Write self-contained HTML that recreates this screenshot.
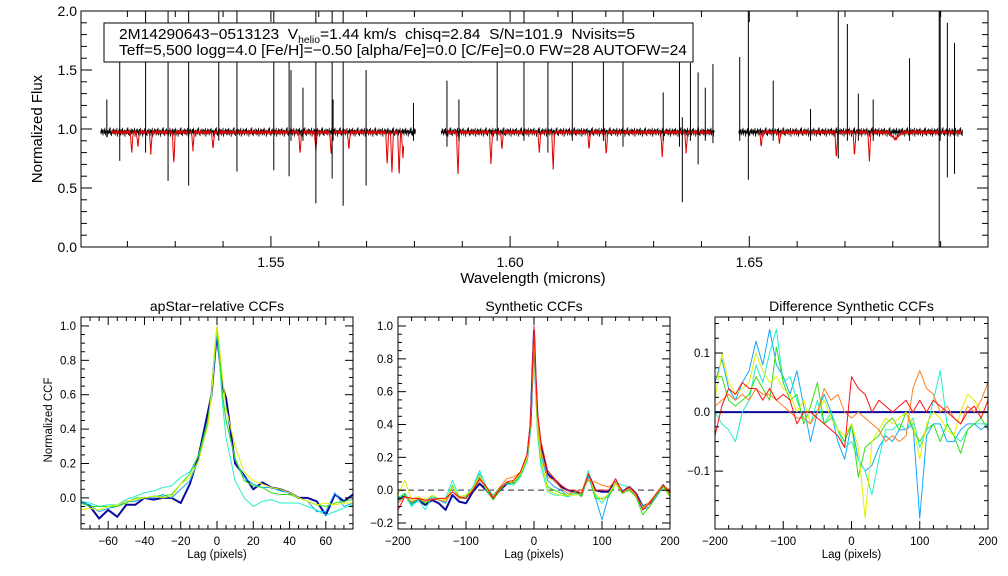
<!DOCTYPE html>
<html><head><meta charset="utf-8"><style>
html,body{margin:0;padding:0;background:#fff;width:1008px;height:576px;overflow:hidden}
svg{font-family:"Liberation Sans",sans-serif}
</style></head><body>
<svg id="fig" width="1008" height="576" viewBox="0 0 1008 576"></svg>
<script>
// ---------- spectrum data ----------
const segStart=[1.5144,1.5856,1.6478];
const segEnd=[1.5803,1.6427,1.6946];
const redStart=[1.5167,1.5866,1.6520];
const redEnd=[1.5778,1.6420,1.6943];
const spikeWl=[1.5157,1.5184,1.5238,1.5285,1.5328,1.5391,1.5429,1.5506,1.5538,1.5542,1.5567,1.5594,1.5628,1.5630,1.5651,1.5699,1.5798,1.5868,1.5893,1.5973,1.6029,1.6079,1.6130,1.6195,1.6236,1.6320,1.6354,1.6360,1.6377,1.6393,1.6408,1.6424,1.6480,1.6498,1.6550,1.6628,1.6686,1.6705,1.6728,1.6759,1.6835,1.6897,1.6899,1.6914,1.6929];
const spikeTop=[1.25,1.57,2.05,2.05,2.05,2.05,2.05,2.05,1.57,1.5,1.35,2.05,2.05,1.25,2.05,1.5,1.22,1.41,1.25,1.58,2.05,1.58,2.05,1.57,2.05,1.31,1.57,1.1,1.56,1.48,1.35,1.55,1.61,2.05,1.41,1.17,2.05,1.89,1.3,1.25,1.6,2.05,2.05,1.9,1.73];
const spikeBot=[0.93,0.73,0.8,0.56,0.52,0.9,0.64,0.65,0.6,0.9,0.9,0.37,0.58,0.9,0.35,0.52,0.9,0.85,0.9,0.9,0.9,0.8,0.9,0.9,0.85,0.9,0.85,0.38,0.9,0.7,0.9,0.88,0.9,0.57,0.9,0.9,0.75,0.9,0.9,0.9,0.9,-0.05,0.9,0.59,0.62];
const lineWl=[1.5209,1.5222,1.5249,1.5297,1.5337,1.5379,1.5561,1.5594,1.5626,1.5663,1.5743,1.5753,1.5768,1.5776,1.5891,1.5960,1.5983,1.6061,1.6090,1.6165,1.6201,1.6318,1.6368,1.6525,1.6563,1.6682,1.6720,1.6751,1.6805];
const lineMin=[0.8,0.85,0.8,0.7,0.83,0.83,0.79,0.82,0.78,0.83,0.7,0.62,0.6,0.75,0.6,0.69,0.83,0.8,0.66,0.83,0.78,0.76,0.8,0.85,0.88,0.75,0.78,0.73,0.92];
const lineWid=[3e-4,3e-4,3e-4,3e-4,3e-4,3e-4,3e-4,3e-4,3e-4,3e-4,3e-4,3e-4,3e-4,3e-4,3e-4,3e-4,3e-4,3e-4,3e-4,3e-4,3e-4,3e-4,3e-4,3e-4,3e-4,3e-4,3e-4,3e-4,1.5e-3];
const noise=[0.01,-0.02,0.03,-0.01,0.02,-0.03,0.0,0.025,-0.015,0.035,-0.03,0.01,-0.005,0.02,-0.04,0.015,0.0,-0.02,0.03,-0.01,0.04,-0.025,0.005,-0.035,0.02,0.01,-0.015,0.03,-0.02,0.0,0.025,-0.03,0.015,-0.01,0.035,-0.04,0.005];
const rnoise=[0.0,-0.01,0.005,-0.02,0.0,-0.005,-0.03,0.0,-0.01,0.005,-0.015,0.0,-0.04,-0.005,0.0,-0.01,-0.02,0.005,0.0,-0.025,-0.005];

// ---------- CCF data ----------
const lag1=[-75,-70,-65,-60,-55,-50,-45,-40,-35,-30,-25,-20,-15,-10,-5,-3,-1,0,1,3,5,10,15,20,25,30,35,40,45,50,55,60,65,70,75];
const p1Navy=[-0.02,-0.05,-0.12,-0.07,-0.11,-0.04,-0.04,0.0,-0.01,0.0,0.0,-0.03,0.08,0.25,0.5,0.6,0.85,0.95,0.85,0.65,0.58,0.2,0.13,0.05,0.09,0.06,0.05,0.03,0.0,0.0,-0.02,-0.1,0.02,-0.02,0.02];
const p1Azure=[-0.03,-0.04,-0.08,-0.06,-0.05,-0.02,-0.02,0.0,0.0,0.02,0.0,0.05,0.1,0.22,0.45,0.6,0.85,0.97,0.88,0.6,0.45,0.22,0.12,0.08,0.06,0.06,0.04,0.03,0.0,-0.02,-0.08,-0.08,0.03,-0.05,-0.03];
const p1Cyan=[-0.02,-0.03,-0.05,-0.04,-0.04,-0.01,0.01,0.03,0.04,0.06,0.07,0.12,0.15,0.25,0.45,0.6,0.88,0.97,0.85,0.55,0.35,0.1,0.0,-0.05,-0.02,-0.01,-0.03,-0.03,-0.03,-0.05,-0.07,-0.1,-0.08,-0.06,-0.04];
const p1Green=[-0.03,-0.05,-0.05,-0.05,-0.05,-0.03,0.0,0.0,0.01,0.01,0.02,0.08,0.14,0.25,0.45,0.62,0.9,1.0,0.9,0.6,0.45,0.23,0.1,0.07,0.06,0.03,0.02,0.02,0.0,-0.02,-0.04,-0.05,-0.03,-0.02,-0.01];
const p1Yellow=[-0.07,-0.06,-0.07,-0.05,-0.04,-0.02,-0.01,0.0,0.01,0.0,0.01,0.08,0.12,0.22,0.42,0.6,0.9,1.0,0.92,0.7,0.52,0.3,0.15,0.1,0.08,0.06,0.05,0.03,0.0,-0.02,-0.04,-0.03,-0.04,-0.03,-0.03];

const lag2=[-200,-190,-180,-170,-160,-150,-140,-130,-120,-110,-100,-90,-80,-70,-60,-50,-40,-30,-20,-10,-5,-2,0,2,5,10,20,30,40,50,60,70,80,90,100,110,120,130,140,150,160,170,180,190,200];
const p2Navy=[-0.06,-0.03,-0.08,-0.06,-0.09,-0.06,-0.08,-0.12,-0.03,-0.07,-0.08,-0.01,0.04,0.0,-0.05,0.0,0.04,0.05,0.1,0.2,0.4,0.75,0.97,0.72,0.45,0.27,0.1,0.06,0.02,0.0,-0.01,-0.03,0.1,0.0,-0.01,-0.01,0.05,-0.01,0.02,-0.02,-0.1,-0.08,-0.03,0.03,-0.02];
const p2Azure=[-0.05,-0.02,-0.09,-0.05,-0.07,-0.04,-0.06,-0.08,0.02,-0.05,-0.04,0.02,0.1,0.0,-0.04,0.01,0.05,0.05,0.1,0.2,0.4,0.72,0.95,0.7,0.4,0.22,0.06,0.02,0.0,-0.04,-0.02,-0.03,0.08,-0.04,-0.18,-0.03,0.04,0.0,0.0,-0.04,-0.12,-0.1,-0.04,0.02,-0.03];
const p2Cyan=[-0.04,-0.03,-0.1,-0.06,-0.12,-0.04,-0.05,-0.05,0.06,-0.04,-0.03,0.02,0.12,0.02,-0.03,0.02,0.04,0.03,0.08,0.18,0.38,0.7,0.93,0.65,0.35,0.15,-0.01,-0.03,-0.03,-0.04,-0.02,-0.03,0.12,-0.03,-0.08,-0.02,0.05,0.03,0.02,-0.03,-0.1,-0.08,-0.03,0.03,-0.02];
const p2Green=[-0.06,-0.02,-0.08,-0.05,-0.08,-0.05,-0.06,-0.07,0.03,-0.05,-0.04,0.0,0.08,0.0,-0.06,0.0,0.05,0.04,0.09,0.19,0.4,0.72,0.95,0.68,0.38,0.18,0.02,0.0,-0.02,-0.03,-0.01,-0.04,0.1,-0.05,-0.05,-0.04,0.04,-0.02,0.0,-0.04,-0.15,-0.1,-0.03,0.02,-0.04];
const p2Yellow=[-0.03,0.06,-0.06,-0.04,-0.06,-0.03,-0.05,-0.06,0.02,-0.04,-0.03,0.01,0.09,0.01,-0.04,0.01,0.05,0.05,0.1,0.2,0.4,0.74,0.96,0.7,0.4,0.2,0.0,-0.02,-0.03,-0.03,-0.03,-0.02,0.1,-0.02,-0.06,-0.02,0.04,-0.01,0.01,-0.03,-0.11,-0.08,-0.02,0.03,-0.03];
const p2Orange=[-0.08,-0.04,-0.07,-0.05,-0.07,-0.05,-0.06,-0.07,-0.01,-0.05,-0.05,0.0,0.06,0.02,-0.04,0.02,0.07,0.08,0.11,0.22,0.42,0.76,0.98,0.74,0.45,0.25,0.08,0.06,0.01,-0.02,-0.01,0.0,0.06,0.05,0.03,0.02,0.05,-0.01,0.01,-0.03,-0.11,-0.07,-0.02,0.03,0.0];
const p2Red=[-0.12,-0.04,-0.05,-0.05,-0.06,-0.06,-0.05,-0.05,-0.01,-0.04,-0.05,0.0,0.07,0.02,-0.05,0.01,0.05,0.06,0.11,0.22,0.42,0.77,1.0,0.76,0.48,0.3,0.12,0.07,0.03,0.0,0.0,-0.02,0.1,0.0,0.0,0.0,0.07,-0.01,0.02,-0.02,-0.12,-0.08,-0.02,0.03,-0.02];

const lag3=[-200,-190,-180,-170,-160,-150,-140,-130,-120,-110,-100,-90,-80,-70,-60,-50,-40,-30,-20,-10,0,10,20,30,40,50,60,70,80,90,100,110,120,130,140,150,160,170,180,190,200];
const d3Navy=[0,0,0,0,0,0,0,0,0,0,0,0,0,0,0,0,0,0,0,0,0,0,0,0,0,0,0,0,0,0,0,0,0,0,0,0,0,0,0,0,0];
const d3Azure=[0.05,0.09,0.04,0.02,0.05,0.07,0.12,0.08,0.14,0.08,0.06,0.03,0.07,0.01,-0.05,0.0,0.03,0.0,-0.05,-0.08,-0.02,-0.08,-0.1,-0.09,-0.06,-0.04,-0.05,-0.03,-0.03,-0.02,-0.18,-0.04,-0.02,-0.02,-0.05,-0.05,-0.03,-0.02,-0.02,-0.03,-0.02];
const d3Cyan=[0.0,-0.02,-0.03,-0.05,0.0,0.02,0.08,0.05,0.1,0.14,0.05,0.06,0.02,-0.01,-0.02,0.02,-0.02,0.0,-0.03,-0.06,-0.05,-0.08,-0.1,-0.14,-0.08,-0.03,-0.03,-0.02,-0.03,-0.01,-0.06,-0.03,0.02,0.07,-0.02,-0.04,-0.05,-0.03,-0.02,-0.02,-0.02];
const d3Green=[0.06,0.06,0.02,0.01,0.02,0.03,0.06,0.04,0.02,0.11,0.05,0.02,0.03,-0.02,0.01,0.05,-0.02,-0.01,-0.03,-0.05,-0.02,-0.11,-0.06,-0.05,-0.04,-0.02,-0.01,-0.03,0.0,-0.03,-0.05,-0.03,-0.02,-0.05,-0.02,-0.04,-0.07,-0.03,-0.02,-0.01,-0.03];
const d3Yellow=[0.02,0.1,0.05,0.03,0.04,0.05,0.1,0.07,0.05,0.06,0.04,0.03,0.0,0.02,-0.02,0.0,0.02,-0.01,-0.03,-0.04,-0.02,-0.06,-0.18,-0.05,-0.03,-0.01,-0.02,-0.01,0.0,-0.02,-0.08,-0.02,0.0,-0.01,-0.03,-0.04,0.0,0.03,0.02,0.0,0.0];
const d3Orange=[0.01,0.02,0.03,0.02,0.03,0.02,0.04,0.03,0.03,0.02,0.01,0.0,-0.01,-0.01,-0.02,0.0,0.04,0.02,0.03,0.0,-0.01,0.0,-0.01,-0.02,-0.03,-0.05,-0.04,-0.05,-0.04,0.04,0.07,0.04,0.03,0.0,0.01,-0.01,-0.02,0.01,0.0,0.02,0.05];
const d3Red=[-0.04,0.01,0.04,0.03,0.05,0.04,0.04,0.02,0.04,0.02,0.03,0.02,-0.02,0.0,0.0,-0.01,-0.02,-0.03,-0.04,-0.06,0.06,0.04,0.03,0.0,0.02,0.01,0.0,0.01,0.02,0.0,0.02,0.0,0.02,0.01,0.0,-0.01,-0.02,0.0,0.01,-0.01,0.02];

const C={navy:'#0a0aa0',azure:'#10a8ff',cyan:'#20f0c8',green:'#30e010',yellow:'#e0f000',orange:'#ff8020',red:'#ff1010'};

const NS='http://www.w3.org/2000/svg';
const svg=document.getElementById('fig');
function mk(tag,attrs,parent){const e=document.createElementNS(NS,tag);for(const k in attrs)e.setAttribute(k,attrs[k]);(parent||svg).appendChild(e);return e;}
function txt(x,y,s,size,anchor,parent){const t=mk('text',{x:x,y:y,'font-size':size,'text-anchor':anchor||'middle',fill:'#000'},parent);t.textContent=s;return t;}

// ---------- top panel ----------
const T={x0:81,x1:988,y0:11,y1:247,w0:1.5103,w1:1.6999,f0:0,f1:2.0};
const tx=w=>T.x0+(w-T.w0)/(T.w1-T.w0)*(T.x1-T.x0);
const ty=f=>T.y1-(f-T.f0)/(T.f1-T.f0)*(T.y1-T.y0);
const topPanel=mk('g',{});


const cp=mk('clipPath',{id:'ctop'},svg);
mk('rect',{x:T.x0,y:T.y0,width:T.x1-T.x0,height:T.y1-T.y0},cp);
const plot=mk('g',{'clip-path':'url(#ctop)'},topPanel);
for(let s=0;s<segStart.length;s++){
  let pts=[],i=0;
  for(let w=segStart[s];w<=segEnd[s];w+=0.0001,i++){pts.push(tx(w).toFixed(2)+','+ty(0.975+noise[i%noise.length]).toFixed(2));}
  const pl=mk('polyline',{points:pts.join(' '),fill:'none',stroke:'#000','stroke-width':0.7},plot);
  
  
}
for(let s=0;s<redStart.length;s++){
  let pts=[],i=0;
  for(let w=redStart[s];w<=redEnd[s];w+=0.00007,i++){
    let f=0.978+rnoise[i%rnoise.length]*0.6;
    for(let k=0;k<lineWl.length;k++){const d=Math.abs(w-lineWl[k]);if(d<lineWid[k])f-=(0.978-lineMin[k])*(1-d/lineWid[k]);}
    pts.push(tx(w).toFixed(2)+','+ty(f).toFixed(2));
  }
  const pl=mk('polyline',{points:pts.join(' '),fill:'none',stroke:'#e00000','stroke-width':1},plot);
  
  
}
for(let k=0;k<spikeWl.length;k++){
  const l=mk('line',{x1:tx(spikeWl[k]),x2:tx(spikeWl[k]),y1:ty(spikeTop[k]),y2:ty(spikeBot[k]),stroke:'#000','stroke-width':1},plot);
  
  
}
mk('rect',{x:T.x0,y:T.y0,width:T.x1-T.x0,height:T.y1-T.y0,fill:'none',stroke:'#000','stroke-width':1},topPanel);
for(let i=0;i<=20;i++){
  const v=i/10, major=i%5===0, L=major?11:6, y=ty(v);
  mk('line',{x1:T.x0,x2:T.x0+L,y1:y,y2:y,stroke:'#000'},topPanel);
  mk('line',{x1:T.x1,x2:T.x1-L,y1:y,y2:y,stroke:'#000'},topPanel);
  if(major){const t=txt(T.x0-4,y+5,v.toFixed(1),14,'end',topPanel);}
}
for(let k=152;k<=169;k++){
  const w=k/100, x=tx(w); if(x<T.x0||x>T.x1)continue;
  const major=k%5===0, L=major?11:6;
  mk('line',{x1:x,x2:x,y1:T.y1,y2:T.y1-L,stroke:'#000'},topPanel);
  mk('line',{x1:x,x2:x,y1:T.y0,y2:T.y0+L,stroke:'#000'},topPanel);
  if(major){const t=txt(x,267,w.toFixed(2),14,'middle',topPanel);}
}
const xt=txt(533,283,'Wavelength (microns)',15,'middle',topPanel);


const yt=txt(0,0,'Normalized Flux',15,'middle',topPanel);
yt.setAttribute('transform','translate(42,129) rotate(-90)');


const box=mk('g',{},topPanel);


mk('rect',{x:104,y:23,width:589,height:39,fill:'#fff',stroke:'#000','stroke-width':1},box);
const line1=mk('text',{x:119,y:39,'font-size':15,fill:'#000',style:'white-space:pre',textLength:516,lengthAdjust:'spacingAndGlyphs'},box);
const s1=mk('tspan',{},line1); s1.textContent='2M14290643\u22120513123  V';
const s2=mk('tspan',{'font-size':10,dy:4},line1); s2.textContent='helio';
const s3=mk('tspan',{dy:-4},line1); s3.textContent='=1.44 km/s  chisq=2.84  S/N=101.9  Nvisits=5';
const line2=txt(119,55,'Teff=5,500 logg=4.0 [Fe/H]=\u22120.50 [alpha/Fe]=0.0 [C/Fe]=0.0 FW=28 AUTOFW=24',15,'start',box);
line2.setAttribute('textLength','568');
line2.setAttribute('lengthAdjust','spacingAndGlyphs');

// ---------- CCF panels ----------
function panel(cfg){
  const g=mk('g',{});
  
  
  const X=v=>cfg.x0+(v-cfg.xmin)/(cfg.xmax-cfg.xmin)*(cfg.x1-cfg.x0);
  const Y=v=>cfg.y1-(v-cfg.ymin)/(cfg.ymax-cfg.ymin)*(cfg.y1-cfg.y0);
  const cid='c'+cfg.name;
  const c=mk('clipPath',{id:cid},svg);
  mk('rect',{x:cfg.x0,y:cfg.y0,width:cfg.x1-cfg.x0,height:cfg.y1-cfg.y0},c);
  const pg=mk('g',{'clip-path':'url(#'+cid+')'},g);
  if(cfg.zero){const z=mk('line',{x1:cfg.x0,x2:cfg.x1,y1:Y(0),y2:Y(0),stroke:cfg.zero.c,'stroke-width':cfg.zero.w,'stroke-dasharray':cfg.zero.d||'none'},pg);}
  cfg.series.forEach(s=>{
    const pts=cfg.lag.map((l,i)=>X(l).toFixed(2)+','+Y(s.v[i]).toFixed(2)).join(' ');
    const p=mk('polyline',{points:pts,fill:'none',stroke:s.c,'stroke-width':s.w||1,'stroke-linejoin':'round'},pg);
    
    
  });
  mk('rect',{x:cfg.x0,y:cfg.y0,width:cfg.x1-cfg.x0,height:cfg.y1-cfg.y0,fill:'none',stroke:'#000'},g);
  const nY=Math.round((cfg.ymaxT-cfg.yminT)/cfg.ym);
  for(let i=0;i<=nY;i++){
    const v=cfg.yminT+i*cfg.ym; const y=Y(v); if(y<cfg.y0-0.5||y>cfg.y1+0.5)continue;
    const major=i%cfg.yk===0, L=major?8:4;
    mk('line',{x1:cfg.x0,x2:cfg.x0+L,y1:y,y2:y,stroke:'#000'},g);
    mk('line',{x1:cfg.x1,x2:cfg.x1-L,y1:y,y2:y,stroke:'#000'},g);
    if(major&&cfg.ylab.indexOf(+v.toFixed(2))>=0){const t=txt(cfg.x0-5,y+4,(v<-1e-9?'\u2212':'')+Math.abs(v).toFixed(1),11.5,'end',g);}
  }
  const nX=Math.round((cfg.xmaxT-cfg.xminT)/cfg.xm);
  for(let i=0;i<=nX;i++){
    const v=cfg.xminT+i*cfg.xm; const x=X(v); if(x<cfg.x0-0.5||x>cfg.x1+0.5)continue;
    const major=i%cfg.xk===0, L=major?8:4;
    mk('line',{x1:x,x2:x,y1:cfg.y1,y2:cfg.y1-L,stroke:'#000'},g);
    mk('line',{x1:x,x2:x,y1:cfg.y0,y2:cfg.y0+L,stroke:'#000'},g);
    if(major){const t=txt(x,545,(v<0?'\u2212':'')+Math.abs(v),11.5,'middle',g);}
  }
  const ti=txt((cfg.x0+cfg.x1)/2,311,cfg.title,14,'middle',g);
  
  const xl=txt((cfg.x0+cfg.x1)/2,558,'Lag (pixels)',11.5,'middle',g);
  
  return g;
}
panel({name:'apstar-ccf-panel',title:'apStar\u2212relative CCFs',x0:81,x1:353,y0:317,y1:529,xmin:-75,xmax:75,ymin:-0.181,ymax:1.052,
  yminT:-0.2,ymaxT:1.0,ym:0.05,yk:4,ylab:[0,0.2,0.4,0.6,0.8,1],xminT:-80,xmaxT:80,xm:5,xk:4,lag:lag1,
  series:[{n:'ccf-visit-1',c:C.navy,v:p1Navy,w:2},{n:'ccf-visit-2',c:C.azure,v:p1Azure},{n:'ccf-visit-3',c:C.cyan,v:p1Cyan},{n:'ccf-visit-4',c:C.green,v:p1Green},{n:'ccf-visit-5',c:C.yellow,v:p1Yellow}]});
const yl=txt(0,0,'Normalized CCF',11.5,'middle');
yl.setAttribute('transform','translate(52,420) rotate(-90)');


panel({name:'synthetic-ccf-panel',title:'Synthetic CCFs',x0:398,x1:670,y0:317,y1:529,xmin:-200,xmax:200,ymin:-0.2366,ymax:1.0549,
  yminT:-0.2,ymaxT:1.0,ym:0.05,yk:4,ylab:[-0.2,0,0.2,0.4,0.6,0.8,1],xminT:-200,xmaxT:200,xm:20,xk:5,lag:lag2,zero:{c:'#555',w:1.2,d:'6,4'},
  series:[{n:'synth-ccf-1',c:C.navy,v:p2Navy,w:2},{n:'synth-ccf-2',c:C.azure,v:p2Azure},{n:'synth-ccf-3',c:C.cyan,v:p2Cyan},{n:'synth-ccf-4',c:C.green,v:p2Green},{n:'synth-ccf-5',c:C.yellow,v:p2Yellow},{n:'synth-ccf-6',c:C.orange,v:p2Orange},{n:'synth-ccf-7',c:C.red,v:p2Red}]});
panel({name:'difference-ccf-panel',title:'Difference Synthetic CCFs',x0:715,x1:988,y0:317,y1:529,xmin:-200,xmax:200,ymin:-0.198,ymax:0.161,
  yminT:-0.2,ymaxT:0.15,ym:0.025,yk:4,ylab:[-0.1,0,0.1],xminT:-200,xmaxT:200,xm:20,xk:5,lag:lag3,zero:{c:'#000',w:1},
  series:[{n:'diff-ccf-1',c:C.navy,v:d3Navy,w:2},{n:'diff-ccf-2',c:C.azure,v:d3Azure},{n:'diff-ccf-3',c:C.cyan,v:d3Cyan},{n:'diff-ccf-4',c:C.green,v:d3Green},{n:'diff-ccf-5',c:C.yellow,v:d3Yellow},{n:'diff-ccf-6',c:C.orange,v:d3Orange},{n:'diff-ccf-7',c:C.red,v:d3Red}]});
</script>
</body></html>
